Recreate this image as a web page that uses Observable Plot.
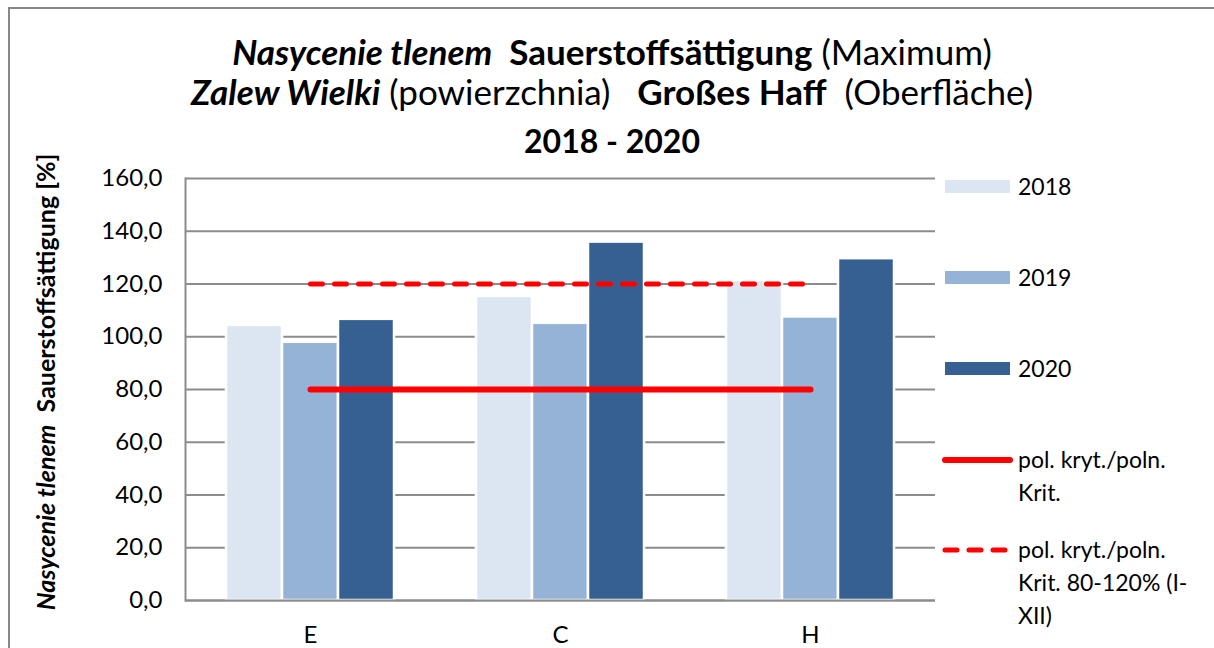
<!DOCTYPE html>
<html><head><meta charset="utf-8">
<script src="https://cdn.jsdelivr.net/npm/d3@7"></script>
<script src="https://cdn.jsdelivr.net/npm/@observablehq/plot@0.6"></script>
<style>
html,body{margin:0;padding:0;background:#fff;}
body{width:1214px;height:648px;overflow:hidden;position:relative;font-family:Lato,sans-serif;color:#000;}
#frame{position:absolute;left:8px;top:7px;width:1240px;height:700px;border:2px solid #888;box-sizing:border-box;}
.t{position:absolute;left:0;width:1224px;text-align:center;font-size:35px;white-space:pre;line-height:35px;}
.bi{font-weight:bold;font-style:italic;}
.b{font-weight:bold;}
#ytitle{position:absolute;left:45px;top:382px;transform:translate(-50%,-50%) rotate(-90deg);white-space:pre;font-size:25px;font-weight:bold;line-height:25px;}
.layer{position:absolute;left:0;top:150px;}
.leg{position:absolute;left:940px;display:flex;align-items:flex-start;font-size:23px;line-height:33px;}
.leg .sw{width:78px;height:33px;position:relative;flex:none;}
</style>
</head><body>
<div id="frame"></div>
<div class="t" style="top:34px"><span class="bi">Nasycenie tlenem</span><span class="b">  Sauerstoffsättigung</span> (Maximum)</div>
<div class="t" style="top:74px"><span class="bi">Zalew Wielki</span> (powierzchnia)   <span class="b">Großes Haff</span>  (Oberfläche)</div>
<div class="t b" style="top:125px;font-size:32px;line-height:32px">2018 - 2020</div>
<div id="ytitle"><span class="bi">Nasycenie tlenem</span>  Sauerstoffsättigung [%]</div>
<div id="chart"></div>
<div id="legend"></div>
<script>
// ---- data ----
const categories = ["E", "C", "H"];
const years = ["2018", "2019", "2020"];
const values2018 = [104.3, 115.3, 121.3];
const values2019 = [97.9, 105.1, 107.5];
const values2020 = [106.6, 135.9, 129.6];
const critSolid = [80, 80, 80];
const critDashed = [120, 120, 120];
const yTicks = [0, 20, 40, 60, 80, 100, 120, 140, 160];
const colors = ["#dce6f2", "#95b3d7", "#366092"];
const legendLines = ["pol. kryt./poln.<br>Krit.", "pol. kryt./poln.<br>Krit. 80-120% (I-<br>XII)"];

const seriesValues = [values2018, values2019, values2020];
const bars = [];
categories.forEach((c, i) => years.forEach((yr, j) => bars.push({cat: c, year: yr, value: seriesValues[j][i]})));
const crit = categories.map((c, i) => ({cat: c, low: critSolid[i], high: critDashed[i]}));

const common = {
  width: 950, height: 498,
  marginLeft: 185, marginRight: 15, marginTop: 28, marginBottom: 48,
  style: {fontFamily: "Lato, sans-serif", fontSize: "24px", color: "#000", background: "transparent", overflow: "visible"}
};
const fmt = d => d.toFixed(1).replace(".", ",");

const A = Plot.plot({
  ...common,
  fx: {domain: categories, padding: 0, axis: "bottom", label: null, tickSize: 0, tickPadding: 25},
  x: {domain: years, paddingInner: 0, paddingOuter: 0.732, axis: null, round: false},
  y: {domain: [0, 160], ticks: yTicks, tickFormat: fmt, tickSize: 0, tickPadding: 23, label: null},
  color: {domain: years, range: colors},
  marks: [
    Plot.ruleY(yTicks, {stroke: "#8c8c8c", strokeWidth: 2}),
    Plot.barY(bars, {fx: "cat", x: "year", y: "value", fill: "year", stroke: "white", strokeWidth: 2.5})
  ]
});
const C = Plot.plot({
  ...common,
  x: {type: "point", domain: categories, padding: 0.5, axis: null},
  y: {domain: [0, 160], axis: null},
  marks: [
    Plot.ruleY([0], {stroke: "#8c8c8c", strokeWidth: 2}),
    Plot.frame({anchor: "left", stroke: "#8c8c8c", strokeWidth: 2}),
    Plot.lineY(crit, {x: "cat", y: "low", stroke: "#ff0000", strokeWidth: 6, strokeLinecap: "round"}),
    Plot.lineY(crit, {x: "cat", y: "high", stroke: "#ff0000", strokeWidth: 5, strokeDasharray: "12,12", strokeLinecap: "round"})
  ]
});
A.classList.add("layer"); C.classList.add("layer");
const chart = document.getElementById("chart");
chart.appendChild(A); chart.appendChild(C);

// ---- legend ----
const legend = document.getElementById("legend");
const legTops = [170, 261, 352];
years.forEach((yr, j) => {
  const d = document.createElement("div");
  d.className = "leg"; d.style.top = legTops[j] + "px";
  d.innerHTML = `<div class="sw"><div style="position:absolute;left:5px;top:10px;width:65px;height:13px;background:${colors[j]}"></div></div><div>${yr}</div>`;
  legend.appendChild(d);
});
const lineTops = [443, 533];
legendLines.forEach((txt, k) => {
  const d = document.createElement("div");
  d.className = "leg"; d.style.top = lineTops[k] + "px";
  const dash = k === 1 ? 'stroke-dasharray="12,12"' : '';
  d.innerHTML = `<div class="sw"><svg width="78" height="33" style="position:absolute;left:0;top:0"><line x1="5" x2="70" y1="17" y2="17" stroke="#ff0000" stroke-width="${k===1?5:6}" stroke-linecap="round" ${dash}/></svg></div><div>${txt}</div>`;
  legend.appendChild(d);
});
</script>
</body></html>
